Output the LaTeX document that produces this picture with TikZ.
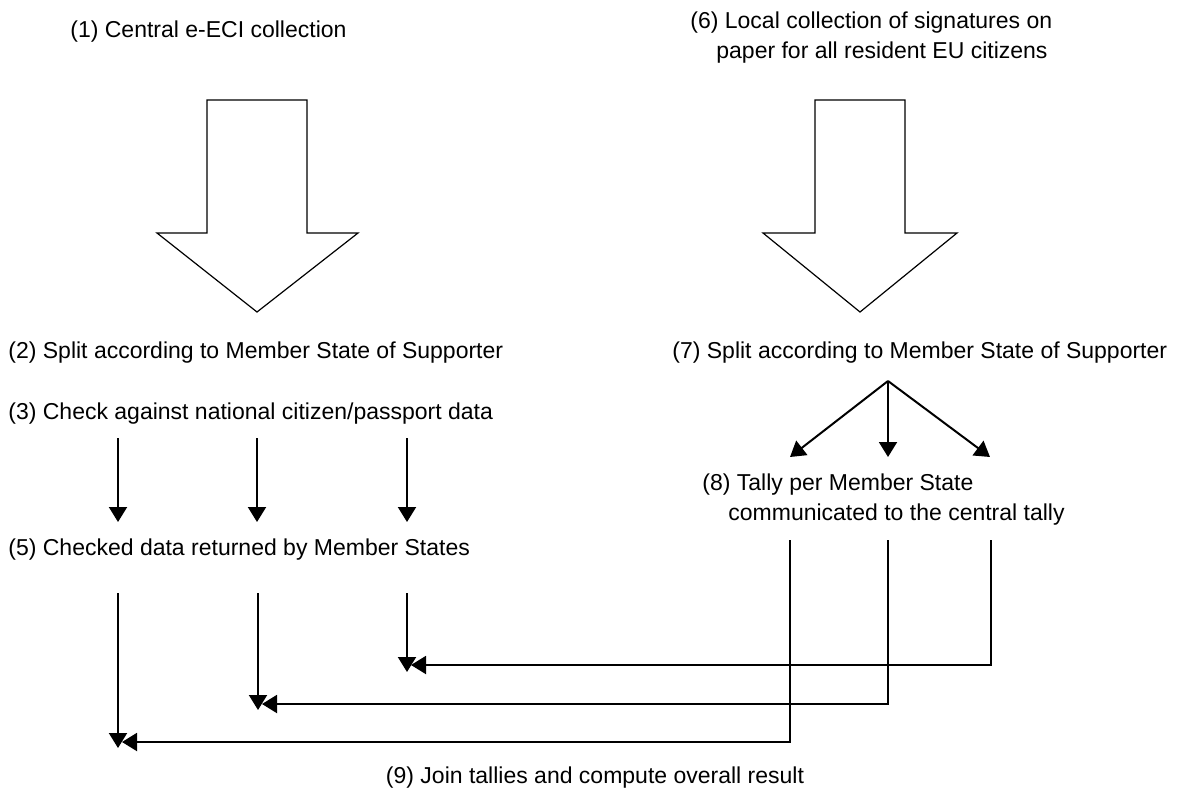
\documentclass[tikz,border=0pt]{standalone}
\usepackage{fontspec}
\setmainfont{Liberation Sans}
\usetikzlibrary{arrows.meta}

\begin{document}
\begin{tikzpicture}[x=0.5pt,y=-0.5pt,
    lbl/.style={inner sep=0pt, font=\fontsize{11.5}{14.75}\selectfont},
    flow/.style={line width=1pt, -{Triangle[length=7.5pt,width=9pt]}},
    bigarrow/.style={draw=black, line width=0.6pt, fill=white}]
    \useasboundingbox (0,0) rectangle (1181,792);

    % labels
    \node[lbl, anchor=base west] (n1) at (70,38) {(1) Central e-ECI collection};
    \node[lbl, anchor=base west, align=left] (n6) at (690,58.5)
        {(6) Local collection of signatures on\\\hspace*{13pt}paper for all resident EU citizens};
    \node[lbl, anchor=base west] (n2) at (8,358.5) {(2) Split according to Member State of Supporter};
    \node[lbl, anchor=base west] (n3) at (8,419) {(3) Check against national citizen/passport data};
    \node[lbl, anchor=base west] (n5) at (8,555) {(5) Checked data returned by Member States};
    \node[lbl, anchor=base west] (n7) at (672,358.5) {(7) Split according to Member State of Supporter};
    \node[lbl, anchor=base west, align=left] (n8) at (702,520)
        {(8) Tally per Member State\\\hspace*{13pt}communicated to the central tally};
    \node[lbl, anchor=base] (n9) at (595,783) {(9) Join tallies and compute overall result};

    % block arrows
    \draw[bigarrow] (207,100) -- (307,100) -- (307,233) -- (358,233) -- (257,312)
        -- (157,233) -- (207,233) -- cycle;
    \draw[bigarrow] (815,100) -- (905,100) -- (905,233) -- (957,233) -- (860,312)
        -- (763,233) -- (815,233) -- cycle;

    % check and return
    \foreach \x [count=\i] in {118,257,407} {
        \coordinate (chk\i) at (\x,438);
        \coordinate (ret\i) at (\x,522);
        \draw[flow] (chk\i) -- (ret\i);
    }

    % split of paper signatures
    \coordinate (fan) at (888,381);
    \foreach \x [count=\i] in {790,888,990} {
        \coordinate (tally\i) at (\x,457);
        \draw[flow] (fan) -- (tally\i);
    }

    % join
    \coordinate (jn1) at (118,593);  \coordinate (je1) at (118,748);
    \coordinate (jn2) at (258,593);  \coordinate (je2) at (258,710);
    \coordinate (jn3) at (407,593);  \coordinate (je3) at (407,672);
    \foreach \i in {1,2,3} {
        \draw[flow] (jn\i) -- (je\i);
    }
    \coordinate (cm1) at (790,540);  \coordinate (ce1) at (122,742);
    \coordinate (cm2) at (888,540);  \coordinate (ce2) at (262,704);
    \coordinate (cm3) at (991,540);  \coordinate (ce3) at (411,665);
    \foreach \i in {1,2,3} {
        \draw[flow] (cm\i) |- (ce\i);
    }

\end{tikzpicture}
\end{document}
